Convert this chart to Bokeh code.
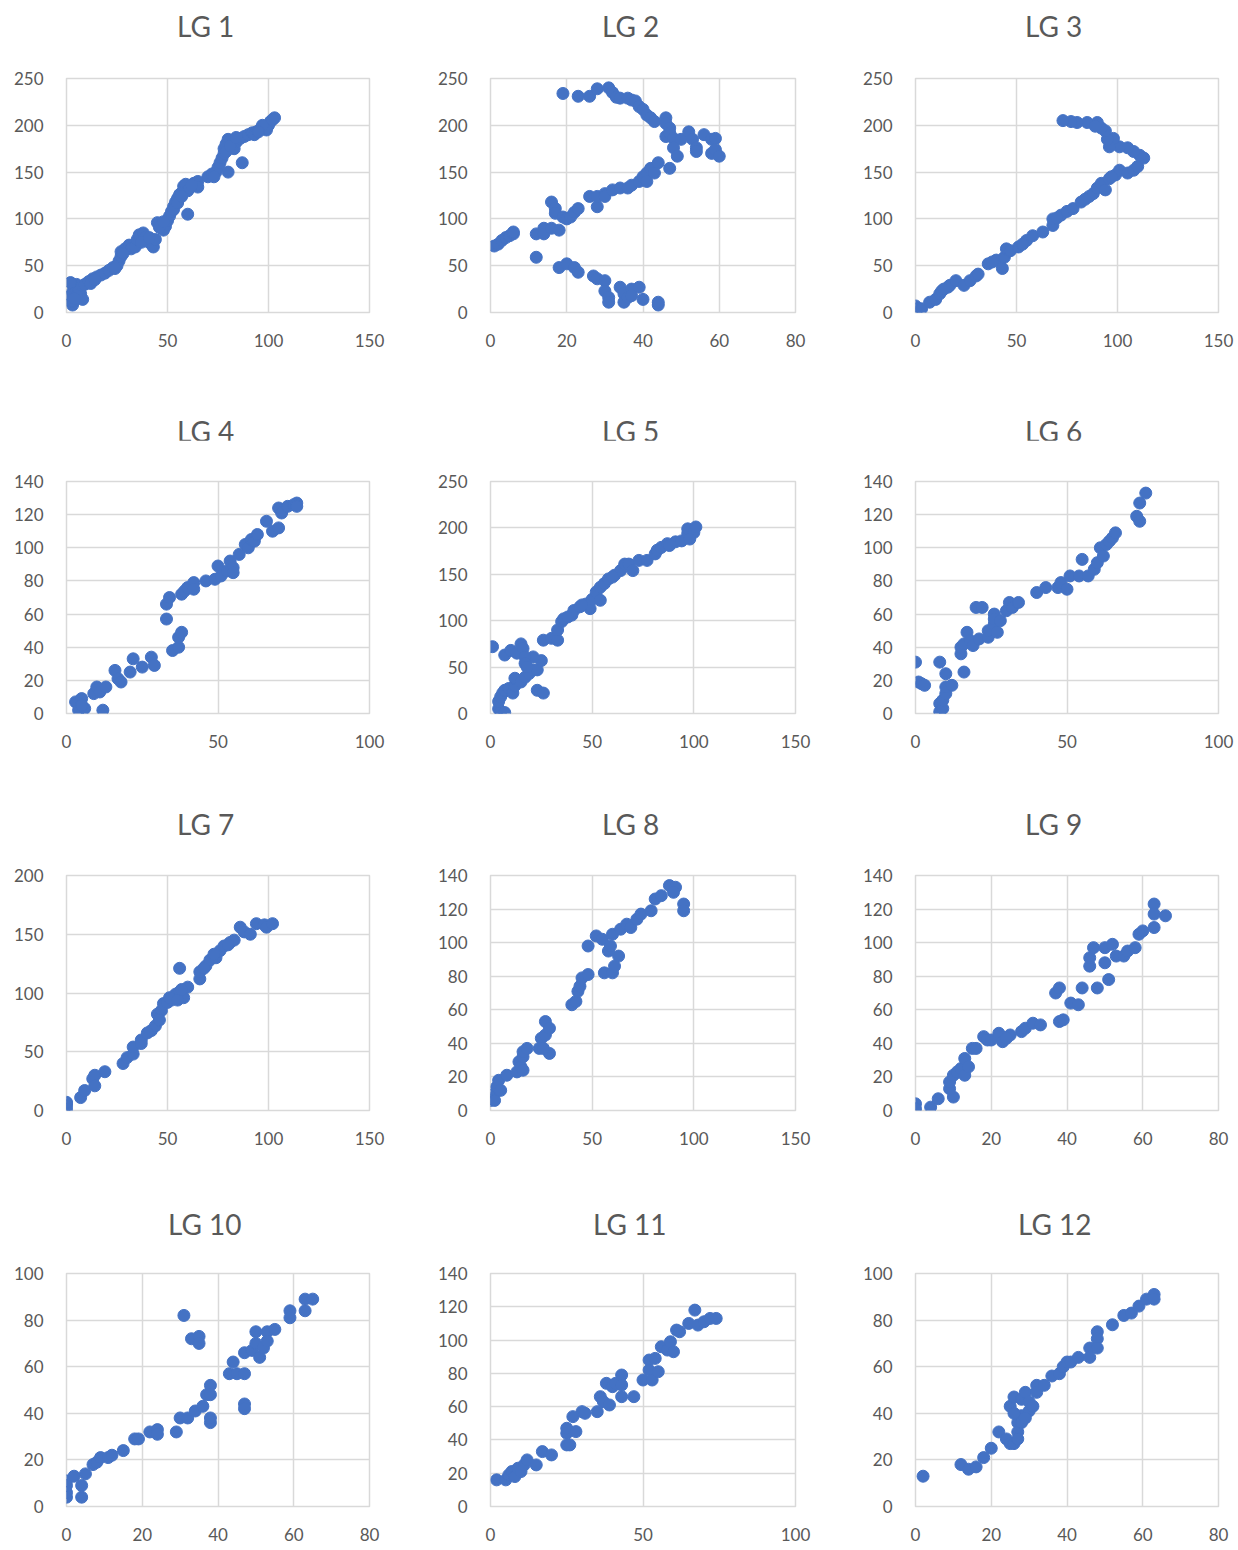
from bokeh.plotting import figure
from bokeh.layouts import column, row
from bokeh.models import Range1d, FixedTicker, Div
from bokeh.embed import file_html
from bokeh.resources import INLINE

# ---------------- data ----------------
lg1_x = [3, 3, 2, 3, 4, 5, 6, 7, 8, 5, 4, 2, 9, 11, 13, 15, 17, 19, 21, 23, 25, 26, 27, 27, 29, 31, 32, 34,
         35, 36, 38, 39, 40, 42, 43, 44, 45, 47, 48, 49, 50, 51, 52, 53, 54, 55, 56, 57, 58, 59, 60, 61,
         63, 65, 65, 60, 70, 72, 74, 75, 76, 77, 78, 78, 79, 80, 81, 82, 83, 84, 86, 80, 73, 87, 88, 90,
         92, 94, 96, 98, 100, 101, 103, 99, 97, 102, 12, 14, 24, 28, 37, 41, 46, 48, 53, 55, 57, 62, 79,
         81, 84, 93, 95]
lg1_y = [8, 12, 18, 22, 27, 30, 25, 20, 14, 18, 15, 32, 30, 33, 36, 38, 40, 42, 45, 48, 50, 55, 60, 65, 68, 72,
         68, 70, 78, 83, 85, 80, 76, 73, 70, 78, 96, 94, 88, 92, 98, 103, 108, 113, 118, 122, 126, 128, 135,
         137, 130, 133, 138, 140, 134, 105, 145, 148, 150, 155, 160, 165, 170, 175, 180, 185, 183, 178, 175,
         182, 186, 150, 145, 160, 188, 190, 192, 193, 196, 198, 200, 204, 208, 195, 200, 206, 31, 35, 47,
         63, 75, 80, 91, 97, 110, 117, 124, 136, 172, 178, 187, 190, 193]

lg2_x = [19, 23, 26, 28, 31, 32, 33, 34, 36, 37, 38, 39, 40, 41, 42, 43, 46, 46, 47, 46, 47, 48, 50, 52, 53,
         54, 56, 58, 59, 58, 59, 60, 54, 48, 49, 47,
         1, 2, 3, 4, 5, 6, 6, 12, 14, 14, 16, 18, 16, 17, 17, 19, 20, 21, 22, 23, 26, 28, 28, 30, 30, 32, 34,
         36, 37, 39, 40, 41, 42, 44, 41, 43,
         12, 18, 20, 22, 23, 27, 28, 30, 30, 31, 31, 34, 35, 35, 36, 37, 39, 37, 40, 44, 44]
lg2_y = [234, 231, 231, 239, 240, 235, 230, 229, 229, 227, 226, 220, 217, 211, 208, 204, 208, 202, 197, 188,
         192, 186, 185, 193, 185, 176, 190, 185, 186, 170, 174, 167, 172, 176, 167, 154,
         71, 73, 77, 80, 82, 84, 86, 84, 90, 84, 90, 88, 118, 111, 106, 102, 100, 102, 107, 111, 124, 113,
         124, 127, 124, 131, 133, 133, 136, 140, 145, 149, 154, 160, 140, 149,
         59, 48, 52, 48, 43, 39, 36, 34, 23, 16, 11, 27, 20, 11, 16, 25, 27, 18, 14, 8, 11]

lg3_x = [0, 1, 3, 7, 10, 12, 13, 16, 17, 20, 24, 27, 30, 31, 36, 40, 43, 44, 45, 47, 51, 55, 58, 63, 68, 68,
         72, 75, 78, 82, 86, 88, 90, 92, 94, 96, 99, 101, 105, 108, 110, 113, 111, 108, 105, 101, 98, 96,
         95, 94, 92, 90, 85, 80, 77, 73, 89, 14, 38, 53, 70, 84, 97]
lg3_y = [7, 4, 4, 11, 14, 20, 23, 27, 29, 34, 29, 34, 39, 41, 52, 56, 47, 59, 68, 66, 70, 77, 82, 86, 93, 100,
         104, 108, 111, 118, 124, 127, 133, 138, 131, 143, 147, 152, 149, 152, 156, 165, 168, 172, 176, 177,
         186, 177, 185, 194, 197, 203, 203, 203, 204, 205, 199, 25, 54, 73, 101, 121, 145]

lg4_x = [3, 4, 5, 6, 5, 9, 10, 11, 12, 13, 16, 17, 18, 21, 22, 25, 28, 29, 33, 33, 34, 35, 37, 37, 38, 38,
         39, 40, 42, 42, 46, 49, 50, 51, 53, 54, 55, 55, 57, 59, 60, 61, 62, 63, 66, 68, 70, 70, 71, 73,
         75, 76, 76]
lg4_y = [7, 2, 9, 3, 5, 12, 16, 13, 2, 16, 26, 21, 19, 25, 33, 28, 34, 29, 57, 66, 70, 38, 40, 46, 49, 72,
         74, 76, 79, 75, 80, 81, 89, 83, 86, 92, 88, 85, 96, 102, 100, 105, 104, 108, 116, 110, 112, 124,
         121, 125, 126, 127, 125]

lg5_x = [1, 4, 5, 7, 4, 5, 6, 7, 9, 11, 12, 12, 15, 17, 19, 21, 23, 25, 21, 23, 26, 7, 10, 13, 15, 16, 17,
         17, 18, 26, 30, 33, 33, 35, 36, 40, 41, 44, 47, 49, 50, 52, 54, 54, 56, 58, 61, 64, 66, 68, 70,
         73, 77, 81, 82, 84, 87, 91, 94, 97, 97, 100, 101, 98, 38, 45, 60, 88]
lg5_y = [72, 5, 2, 1, 13, 18, 22, 25, 27, 22, 30, 38, 34, 39, 43, 47, 47, 57, 61, 25, 22, 63, 68, 65, 75,
         70, 61, 54, 50, 79, 81, 79, 90, 99, 102, 106, 111, 115, 118, 113, 123, 131, 136, 122, 140, 145,
         149, 154, 161, 161, 154, 165, 165, 172, 176, 179, 183, 185, 186, 194, 199, 195, 201, 188, 104,
         117, 147, 181]

lg6_x = [0, 1, 2, 3, 8, 8, 8, 9, 9, 10, 10, 10, 12, 16, 15, 15, 16, 17, 18, 19, 20, 22, 21, 24, 24, 26, 26,
         26, 27, 28, 30, 31, 32, 34, 40, 43, 47, 48, 50, 51, 54, 55, 57, 59, 60, 61, 62, 63, 64, 65, 66,
         73, 74, 74, 76]
lg6_y = [31, 19, 18, 17, 31, 6, 1, 3, 8, 12, 16, 24, 17, 25, 36, 40, 42, 49, 44, 41, 64, 64, 45, 46, 50,
         60, 54, 57, 49, 56, 62, 67, 64, 67, 73, 76, 76, 79, 75, 83, 83, 93, 83, 87, 91, 100, 95, 102,
         104, 106, 109, 119, 116, 127, 133]

lg7_x = [0, 0, 0, 0, 7, 9, 13, 14, 14, 19, 28, 30, 33, 33, 37, 37, 42, 44, 45, 47, 48, 50, 52, 54, 56, 56,
         58, 60, 66, 66, 69, 71, 74, 76, 78, 81, 83, 86, 88, 91, 94, 98, 99, 102, 40, 46, 51, 55, 57, 68,
         73, 80]
lg7_y = [6, 4, 1, 7, 11, 17, 27, 30, 21, 33, 40, 45, 48, 54, 60, 57, 68, 72, 82, 85, 91, 92, 94, 99, 101,
         121, 96, 105, 112, 118, 123, 128, 130, 136, 140, 143, 145, 156, 152, 150, 159, 158, 156, 159, 66,
         77, 96, 94, 103, 121, 133, 141]

lg8_x = [0, 0, 2, 2, 3, 4, 5, 8, 13, 14, 15, 16, 16, 18, 16, 24, 25, 27, 27, 29, 29, 26, 40, 42, 43, 44,
         45, 48, 48, 52, 55, 56, 58, 59, 60, 61, 63, 60, 64, 67, 69, 72, 74, 79, 81, 84, 88, 91, 95, 95, 90]
lg8_y = [7, 6, 10, 6, 14, 18, 12, 21, 23, 29, 26, 32, 35, 37, 24, 37, 43, 45, 53, 49, 34, 37, 63, 65, 71,
         74, 79, 81, 98, 104, 102, 82, 95, 98, 82, 86, 92, 105, 108, 111, 109, 114, 117, 119, 126, 128, 134,
         133, 123, 119, 130]

lg9_x = [0, 0, 4, 6, 10, 9, 9, 10, 11, 12, 13, 13, 14, 15, 16, 18, 19, 20, 22, 23, 25, 24, 28, 29, 31, 33,
         37, 38, 38, 39, 41, 43, 44, 46, 46, 47, 48, 50, 50, 51, 52, 53, 55, 56, 58, 59, 60, 63, 63, 63, 66]
lg9_y = [4, 1, 2, 7, 8, 13, 17, 21, 23, 25, 21, 31, 26, 37, 37, 44, 42, 42, 46, 41, 45, 43, 47, 49, 52, 51,
         70, 73, 53, 54, 64, 63, 73, 86, 91, 97, 73, 88, 97, 78, 99, 92, 92, 95, 97, 105, 107, 123, 117,
         109, 116]

lg10_x = [0, 0, 0, 0, 2, 4, 4, 5, 7, 8, 9, 11, 12, 15, 18, 19, 22, 24, 24, 29, 30, 32, 31, 33, 35, 35, 34,
          36, 37, 38, 38, 38, 38, 43, 44, 45, 47, 47, 47, 47, 49, 50, 50, 51, 52, 53, 53, 55, 59, 59, 63,
          63, 65]
lg10_y = [4, 6, 9, 11, 13, 9, 4, 14, 18, 19, 21, 21, 22, 24, 29, 29, 32, 33, 31, 32, 38, 38, 82, 72, 73,
          70, 41, 43, 48, 52, 48, 36, 38, 57, 62, 57, 57, 44, 42, 66, 67, 75, 70, 64, 68, 75, 71, 76, 84,
          81, 84, 89, 89]

lg11_x = [2, 5, 6, 7, 8, 9, 10, 11, 12, 15, 17, 20, 25, 25, 25, 26, 27, 28, 30, 31, 35, 36, 37, 38, 39, 40,
          41, 43, 43, 43, 47, 50, 52, 52, 53, 54, 55, 56, 58, 59, 60, 61, 62, 65, 67, 68, 70, 72, 74]
lg11_y = [16, 16, 19, 21, 18, 23, 21, 25, 28, 25, 33, 31, 37, 44, 47, 37, 54, 45, 57, 56, 57, 66, 63, 74,
          61, 72, 74, 79, 73, 66, 66, 76, 88, 82, 76, 89, 81, 96, 94, 99, 93, 106, 105, 110, 118, 109, 111,
          113, 113]

lg12_x = [2, 12, 14, 16, 18, 20, 22, 24, 25, 26, 25, 26, 27, 27, 28, 28, 28, 29, 30, 30, 31, 32, 32, 34,
          36, 38, 39, 40, 41, 43, 46, 46, 48, 48, 48, 52, 55, 57, 59, 61, 63, 63, 26, 27, 29]
lg12_y = [13, 18, 16, 17, 21, 25, 32, 29, 27, 27, 43, 47, 36, 32, 39, 46, 36, 49, 41, 45, 43, 52, 49, 52,
          56, 57, 60, 62, 62, 64, 68, 64, 75, 72, 68, 78, 82, 83, 86, 89, 91, 89, 40, 29, 38]

titles = ["LG 1", "LG 2", "LG 3", "LG 4", "LG 5", "LG 6", "LG 7", "LG 8", "LG 9", "LG 10", "LG 11", "LG 12"]
xs = [lg1_x, lg2_x, lg3_x, lg4_x, lg5_x, lg6_x, lg7_x, lg8_x, lg9_x, lg10_x, lg11_x, lg12_x]
ys = [lg1_y, lg2_y, lg3_y, lg4_y, lg5_y, lg6_y, lg7_y, lg8_y, lg9_y, lg10_y, lg11_y, lg12_y]
x_max = [150, 80, 150, 100, 150, 100, 150, 150, 80, 80, 100, 80]
x_step = [50, 20, 50, 50, 50, 50, 50, 50, 20, 20, 50, 20]
y_max = [250, 250, 250, 140, 250, 140, 200, 140, 140, 100, 140, 100]
y_step = [50, 50, 50, 20, 50, 20, 50, 20, 20, 20, 20, 20]

# ---------------- layout geometry ----------------
col_w = [424, 424, 388]
col_left = [66, 66, 67]
col_right = [55, 53, 18]
title_h = [40, 43, 47, 48]          # height of the title strip of each row
title_pad = [9, 17, 14, 15]         # text top padding inside the strip
fig_h = [357, 353, 352, 308]
row_top = [38, 41, 35, 33]
row_frame = [234, 232, 235, 233]
title_left = [177, 178, 177, 177, 178, 177, 177, 178, 177, 168, 169, 170]

FONT = "Lato"
GREY_TXT = "#595959"
GRID = "#d9d9d9"
BLUE = "#4472C4"

rows = []
for r in range(4):
    divs, figs = [], []
    for c in range(3):
        i = 3 * r + c
        html = ('<div style="font-family:Lato, sans-serif;font-size:28px;line-height:34px;'
                'color:%s;padding-top:%dpx;padding-left:%dpx;white-space:nowrap;">%s</div>'
                % (GREY_TXT, title_pad[r], title_left[i], titles[i]))
        divs.append(Div(text=html, width=col_w[c], height=title_h[r], margin=(0, 0, 0, 0)))

        bottom = fig_h[r] - row_top[r] - row_frame[r]
        p = figure(width=col_w[c], height=fig_h[r], output_backend="svg", toolbar_location=None,
                   x_range=Range1d(0, x_max[i]), y_range=Range1d(0, y_max[i]),
                   min_border_left=col_left[c], min_border_right=col_right[c],
                   min_border_top=row_top[r], min_border_bottom=bottom)
        p.scatter(xs[i], ys[i], size=12, color=BLUE, line_color=BLUE)

        p.xaxis.ticker = FixedTicker(ticks=list(range(0, x_max[i] + 1, x_step[i])))
        p.yaxis.ticker = FixedTicker(ticks=list(range(0, y_max[i] + 1, y_step[i])))
        for ax in (p.xaxis[0], p.yaxis[0]):
            ax.axis_line_color = None
            ax.major_tick_line_color = None
            ax.minor_tick_line_color = None
            ax.major_tick_out = 0
            ax.major_tick_in = 0
            ax.minor_tick_out = 0
            ax.major_label_text_font = FONT
            ax.major_label_text_font_size = "17px"
            ax.major_label_text_color = GREY_TXT
        p.xaxis.major_label_standoff = 21
        p.yaxis.major_label_standoff = 23
        p.xgrid.grid_line_color = GRID
        p.ygrid.grid_line_color = GRID
        p.xgrid.grid_line_width = 1.5
        p.ygrid.grid_line_width = 1.5
        p.outline_line_color = GRID
        p.outline_line_width = 1.5
        p.background_fill_color = "white"
        p.border_fill_color = "white"
        figs.append(p)
    rows.append(row(*divs))
    rows.append(row(*figs))

layout = column(*rows)

open("out.html", "w").write(file_html(layout, INLINE))
